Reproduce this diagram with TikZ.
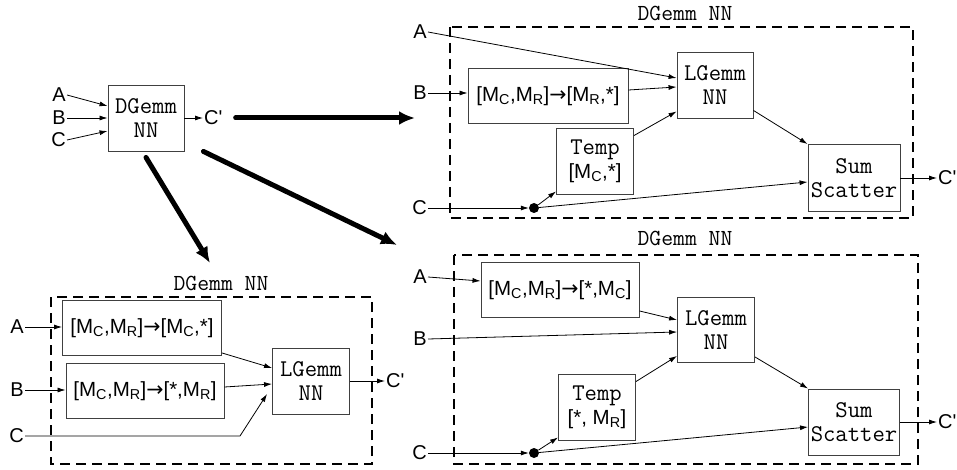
\documentclass[tikz,border=0pt]{standalone}
\usepackage{fontspec}
\setmainfont{Liberation Sans}
\newfontfamily\arrowfont{DejaVu Sans}
\usetikzlibrary{arrows.meta}
\newcommand{\Msub}[1]{M\textsubscript{#1}}
\newcommand{\ra}{{\arrowfont →}}
\newcommand{\Cp}{C\textquotesingle}
\begin{document}
\begin{tikzpicture}[x=1pt,y=-1pt,
		lbl/.style={inner sep=1pt,font=\fontsize{20}{22}\selectfont},
		op/.style={draw=black!75,line width=.9pt,inner sep=0pt,align=center,font=\fontsize{24}{24}\selectfont\ttfamily},
		redist/.style={draw=black!75,line width=.9pt,inner sep=0pt,font=\fontsize{20.5}{22}\selectfont},
		paneltitle/.style={font=\fontsize{23}{24}\selectfont\ttfamily},
		dot/.style={circle,fill,inner sep=0pt,minimum size=10pt},
		dashbox/.style={dash pattern=on 10pt off 6pt,line width=1.2pt},
		conn/.style={-{Latex[length=8pt,width=5pt]},line width=.8pt},
		bigarrow/.style={-{Latex[length=16pt,width=14pt]},line width=5pt,line cap=round}]
	\useasboundingbox (0,0) rectangle (957,470);
	\node[op,minimum width=76pt,minimum height=66pt] (dg) at (146,118) {DGemm\\NN};
	\node[lbl,anchor=east] (a0) at (67,95) {A};
	\node[lbl,anchor=east] (b0) at (67,118) {B};
	\node[lbl,anchor=east] (c0) at (67,140) {C};
	\node[lbl,anchor=west] (o0) at (203,118) {\Cp};
	\draw[conn] (a0.east) -- ([yshift=12pt]dg.west);
	\draw[conn] (b0.east) -- (dg.west);
	\draw[conn] (c0.east) -- ([yshift=-13pt]dg.west);
	\draw[conn] (dg.east) -- (o0.west);

	\node[paneltitle] (t1) at (685,13) {DGemm NN};
	\draw[dashbox] (450,27) rectangle (913,218);
	\node[op,minimum width=76pt,minimum height=66pt] (lg1) at (715,85) {LGemm\\NN};
	\node[redist,minimum width=160pt,minimum height=55pt] (rb1) at (548,96) {[\Msub{C},\Msub{R}]\ra[\Msub{R},*]};
	\node[op,minimum width=77pt,minimum height=66pt] (tmp1) at (595,161) {Temp\\\rmfamily\fontsize{20.5}{24}\selectfont[\Msub{C},*]};
	\node[op,minimum width=92pt,minimum height=67pt] (sum1) at (854,178) {Sum\\Scatter};
	\node[dot] (d1) at (534,208) {};
	\node[lbl,anchor=east] (a1) at (428,32) {A};
	\node[lbl,anchor=east] (b1) at (428,93) {B};
	\node[lbl,anchor=east] (c1) at (428,208) {C};
	\node[lbl,anchor=west] (o1) at (937,178) {\Cp};
	\draw[conn] (a1.east) -- ([yshift=7pt]lg1.west);
	\draw[conn] (b1.east) -- (rb1.west |- b1.east);
	\draw[conn] ([yshift=6pt]rb1.east) -- ([yshift=-2pt]lg1.west);
	\draw[conn] ([yshift=-8pt]tmp1.north east) -- ([yshift=7pt]lg1.south west);
	\draw[conn] (c1.east) -- (d1);
	\draw[conn] (d1) -- ([yshift=3pt]tmp1.south west);
	\draw[conn] (d1) -- ([yshift=-4pt]sum1.west);
	\draw[conn] ([yshift=8pt]lg1.south east) -- (sum1.north west);
	\draw[conn] (sum1.east) -- (o1.west);

	\node[paneltitle] (t2) at (685,238) {DGemm NN};
	\draw[dashbox] (454,255) rectangle (918,464);
	\node[op,minimum width=77pt,minimum height=65pt] (lg2) at (716,330) {LGemm\\NN};
	\node[redist,minimum width=158pt,minimum height=55pt] (rb2) at (560,290) {[\Msub{C},\Msub{R}]\ra[*,\Msub{C}]};
	\node[op,minimum width=77pt,minimum height=66pt] (tmp2) at (597,407) {Temp\\\rmfamily\fontsize{20.5}{24}\selectfont[*, \Msub{R}]};
	\node[op,minimum width=91pt,minimum height=66pt] (sum2) at (854,422) {Sum\\Scatter};
	\node[dot] (d2) at (534,453) {};
	\node[lbl,anchor=east] (a2) at (428,277) {A};
	\node[lbl,anchor=east] (b2) at (428,339) {B};
	\node[lbl,anchor=east] (c2) at (428,453) {C};
	\node[lbl,anchor=west] (o2) at (937,422) {\Cp};
	\draw[conn] (a2.east) -- ([yshift=9pt]rb2.west);
	\draw[conn] ([yshift=7pt]rb2.south east) -- ([yshift=10pt]lg2.west);
	\draw[conn] (b2.east) -- ([yshift=-2pt]lg2.west);
	\draw[conn] ([yshift=-8pt]tmp2.north east) -- ([yshift=7pt]lg2.south west);
	\draw[conn] (c2.east) -- (d2);
	\draw[conn] (d2) -- ([yshift=3pt]tmp2.south west);
	\draw[conn] (d2) -- ([yshift=-5pt]sum2.west);
	\draw[conn] ([yshift=6pt]lg2.south east) -- (sum2.north west);
	\draw[conn] (sum2.east) -- (o2.west);

	\node[paneltitle] (t3) at (221,283) {DGemm NN};
	\draw[dashbox] (51,297) rectangle (372,464);
	\node[redist,minimum width=159pt,minimum height=55pt] (rb3) at (142,328) {[\Msub{C},\Msub{R}]\ra[\Msub{C},*]};
	\node[redist,minimum width=158pt,minimum height=55pt] (rb4) at (145,391) {[\Msub{C},\Msub{R}]\ra[*,\Msub{R}]};
	\node[op,minimum width=77pt,minimum height=66pt] (lg3) at (311,381) {LGemm\\NN};
	\node[lbl,anchor=east] (a3) at (25,327) {A};
	\node[lbl,anchor=east] (b3) at (25,390) {B};
	\node[lbl,anchor=east] (c3) at (25,436) {C};
	\node[lbl,anchor=west] (o3) at (385,381) {\Cp};
	\coordinate (bend3) at (240,436);
	\draw[conn] (a3.east) -- (rb3.west |- a3.east);
	\draw[conn] (b3.east) -- (rb4.west |- b3.east);
	\draw[conn] (c3.east) -- (bend3) -- ([xshift=-5pt,yshift=-13pt]lg3.west);
	\draw[conn] ([yshift=3pt]rb3.south east) -- ([yshift=13pt]lg3.west);
	\draw[conn] ([yshift=4pt]rb4.east) -- ([yshift=-3pt]lg3.west);
	\draw[conn] (lg3.east) -- (o3.west);

	\coordinate (toTR) at (415,118);
	\coordinate (toBR) at (397,245);
	\coordinate (toBL) at (210,263);
	\draw[bigarrow] ([xshift=12pt]o0.east) -- (toTR);
	\draw[bigarrow] ([xshift=19pt]dg.south east) -- (toBR);
	\draw[bigarrow] ([yshift=-6pt]dg.south) -- (toBL);
\end{tikzpicture}
\end{document}
